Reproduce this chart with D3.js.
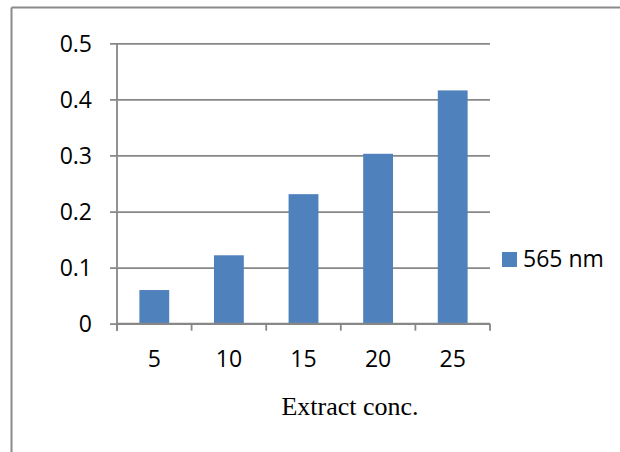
<!DOCTYPE html>
<html>
<head>
<meta charset="utf-8">
<script src="https://cdn.jsdelivr.net/npm/d3@7/dist/d3.min.js"></script>
<style>
  html, body { margin: 0; padding: 0; background: #fff; }
  svg { display: block; }
</style>
</head>
<body>
<svg id="chart" width="620" height="452"></svg>
<script>
// Absorbance readings at 565 nm for each extract concentration
const categories = ["5", "10", "15", "20", "25"];
const absorbance565 = [0.060, 0.122, 0.231, 0.303, 0.416];
const yTicks = [0, 0.1, 0.2, 0.3, 0.4, 0.5];
const seriesName = "565 nm";
const xTitle = "Extract conc.";

const svg = d3.select("#chart");
const W = 620, H = 452;
const plot = { left: 117, right: 490, top: 43.3, bottom: 323.7 };
const gridColor = "#878787";
const barColor = "#4f81bd";
const sansFont = "'Open Sans', 'Noto Sans', sans-serif";
const labelSize = 23;

// Frame lines of the chart area (top and left only)
svg.append("line").attr("x1", 11.5).attr("x2", W).attr("y1", 7.5).attr("y2", 7.5)
  .attr("stroke", "#8a8a8a").attr("stroke-width", 2);
svg.append("line").attr("x1", 11.5).attr("x2", 11.5).attr("y1", 7.5).attr("y2", H)
  .attr("stroke", "#8a8a8a").attr("stroke-width", 2);

const x = d3.scaleBand().domain(categories).range([plot.left, plot.right]).paddingInner(0.6).paddingOuter(0.3);
const xEdges = d3.scaleBand().domain(categories).range([plot.left, plot.right]).padding(0);
const y = d3.scaleLinear().domain([0, 0.5]).range([plot.bottom, plot.top]);

// Horizontal gridlines with left tick marks
const yAxis = d3.axisLeft(y).tickValues(yTicks).tickSize(-(plot.right - plot.left)).tickFormat(d3.format("~g")).tickPadding(25);
const gy = svg.append("g").attr("transform", `translate(${plot.left},0)`).call(yAxis);
gy.select(".domain").remove();
gy.selectAll(".tick line").attr("stroke", gridColor).attr("stroke-width", 1.8).attr("x1", -7);
gy.selectAll(".tick text").attr("font-family", sansFont).attr("font-size", labelSize).attr("fill", "#000").attr("dy", "0.36em");

// Vertical axis line
svg.append("line").attr("x1", plot.left).attr("x2", plot.left).attr("y1", plot.top).attr("y2", plot.bottom + 7)
  .attr("stroke", gridColor).attr("stroke-width", 1.8);

// Bars
svg.append("g").selectAll("rect").data(categories).join("rect")
  .attr("x", (d) => x(d))
  .attr("width", x.bandwidth())
  .attr("y", (d, i) => y(absorbance565[i]))
  .attr("height", (d, i) => y(0) - y(absorbance565[i]))
  .attr("fill", barColor);

// Category axis: baseline, boundary ticks and centred labels
svg.append("line").attr("x1", plot.left).attr("x2", plot.right).attr("y1", plot.bottom).attr("y2", plot.bottom)
  .attr("stroke", gridColor).attr("stroke-width", 1.8);
const edges = categories.map((c) => xEdges(c)).concat([plot.right]);
svg.append("g").selectAll("line").data(edges).join("line")
  .attr("x1", (d) => d).attr("x2", (d) => d)
  .attr("y1", plot.bottom).attr("y2", plot.bottom + 7)
  .attr("stroke", gridColor).attr("stroke-width", 1.8);
svg.append("g").selectAll("text").data(categories).join("text")
  .attr("x", (d) => x(d) + x.bandwidth() / 2)
  .attr("y", 367)
  .attr("text-anchor", "middle")
  .attr("font-family", sansFont).attr("font-size", labelSize).attr("fill", "#000")
  .text((d) => d);

// Axis title
svg.append("text").attr("x", 350).attr("y", 415).attr("text-anchor", "middle")
  .attr("font-family", "'Liberation Serif', 'Times New Roman', serif").attr("font-size", 26).attr("fill", "#000")
  .text(xTitle);

// Legend
svg.append("rect").attr("x", 502).attr("y", 252).attr("width", 15).attr("height", 15).attr("fill", barColor);
svg.append("text").attr("x", 523).attr("y", 267)
  .attr("font-family", sansFont).attr("font-size", labelSize).attr("fill", "#000")
  .text(seriesName);
</script>
</body>
</html>
